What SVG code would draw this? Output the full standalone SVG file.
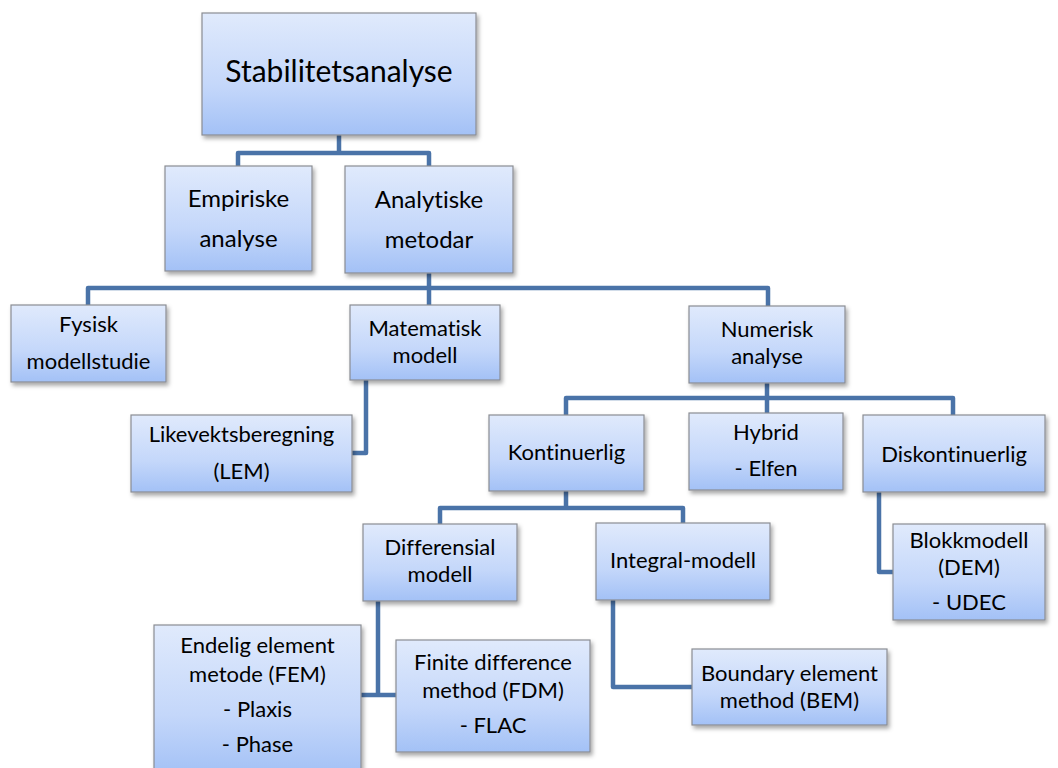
<svg xmlns="http://www.w3.org/2000/svg" width="1058" height="768" viewBox="0 0 1058 768">
<defs>
<linearGradient id="g" x1="0" y1="0" x2="0" y2="1">
<stop offset="0" stop-color="#e0eafc"/>
<stop offset="0.6" stop-color="#c4d7fa"/>
<stop offset="1" stop-color="#a3c1f6"/>
</linearGradient>
<filter id="sh" x="-10%" y="-10%" width="130%" height="130%">
<feDropShadow dx="2" dy="3" stdDeviation="2" flood-color="#000" flood-opacity="0.35"/>
</filter>
</defs>
<style>
.box{fill:url(#g);stroke:#8a8d93;stroke-width:1.2;filter:url(#sh)}
.t{font-family:Lato,"Liberation Sans",sans-serif;fill:#000;text-anchor:middle;font-size:22px;font-variant-ligatures:none;font-feature-settings:"liga" 0,"dlig" 0}
.c{fill:none;stroke:#4a73a8;stroke-width:4.5;stroke-linejoin:round}
</style>
<rect width="1058" height="768" fill="#fff"/>
<g id="connectors" class="c">
<path d="M238 166 V153 H429 V166 M339 135 V153"/>
<path d="M88 305 V288 H768 V306 M429 273 V305"/>
<path d="M366 380 V453 H352"/>
<path d="M767 383 V413 M566 415 V398 H953 V415"/>
<path d="M566 491 V508 M440 524 V508 H683 V523"/>
<path d="M378 601 V695 M361 695 H396"/>
<path d="M613 600 V687 H692"/>
<path d="M879 492 V572 H893"/>
</g>
<g id="stab"><rect class="box" x="202" y="13" width="274" height="122"/><text class="t" x="339" y="82" style="font-size:30px">Stabilitetsanalyse</text></g>
<g id="emp"><rect class="box" x="165" y="166" width="147" height="105"/><text class="t" x="238.5" y="207" style="font-size:24px">Empiriske</text><text class="t" x="238.5" y="247" style="font-size:24px">analyse</text></g>
<g id="ana"><rect class="box" x="345" y="166" width="168" height="107"/><text class="t" x="429" y="208" style="font-size:24px">Analytiske</text><text class="t" x="429" y="248" style="font-size:24px">metodar</text></g>
<g id="fys"><rect class="box" x="11" y="305" width="155" height="77"/><text class="t" x="88.5" y="332">Fysisk</text><text class="t" x="88.5" y="369">modellstudie</text></g>
<g id="mat"><rect class="box" x="350" y="305" width="150" height="75"/><text class="t" x="425" y="336">Matematisk</text><text class="t" x="425" y="363">modell</text></g>
<g id="num"><rect class="box" x="689" y="306" width="156" height="77"/><text class="t" x="767" y="337">Numerisk</text><text class="t" x="767" y="364">analyse</text></g>
<g id="lik"><rect class="box" x="131" y="415" width="221" height="77"/><text class="t" x="241.5" y="442">Likevektsberegning</text><text class="t" x="241.5" y="479">(LEM)</text></g>
<g id="kon"><rect class="box" x="489" y="415" width="155" height="76"/><text class="t" x="566.5" y="460">Kontinuerlig</text></g>
<g id="hyb"><rect class="box" x="689" y="413" width="154" height="77"/><text class="t" x="766" y="440">Hybrid</text><text class="t" x="766" y="476">- Elfen</text></g>
<g id="dis"><rect class="box" x="863" y="415" width="182" height="77"/><text class="t" x="954" y="462">Diskontinuerlig</text></g>
<g id="dif"><rect class="box" x="363" y="524" width="154" height="77"/><text class="t" x="440" y="555">Differensial</text><text class="t" x="440" y="582">modell</text></g>
<g id="int"><rect class="box" x="596" y="523" width="174" height="77"/><text class="t" x="683" y="568">Integral-modell</text></g>
<g id="blk"><rect class="box" x="893" y="524" width="152" height="96"/><text class="t" x="969" y="548">Blokkmodell</text><text class="t" x="969" y="575">(DEM)</text><text class="t" x="969" y="610">- UDEC</text></g>
<g id="fem"><rect class="box" x="154" y="625" width="207" height="150"/><text class="t" x="257.5" y="653">Endelig element</text><text class="t" x="257.5" y="682">metode (FEM)</text><text class="t" x="257.5" y="717">- Plaxis</text><text class="t" x="257.5" y="752">- Phase</text></g>
<g id="fdm"><rect class="box" x="396" y="640" width="194" height="112"/><text class="t" x="493" y="670">Finite difference</text><text class="t" x="493" y="698">method (FDM)</text><text class="t" x="493" y="733">- FLAC</text></g>
<g id="bem"><rect class="box" x="692" y="649" width="195" height="76"/><text class="t" x="789.5" y="681">Boundary element</text><text class="t" x="789.5" y="708">method (BEM)</text></g>
</svg>
